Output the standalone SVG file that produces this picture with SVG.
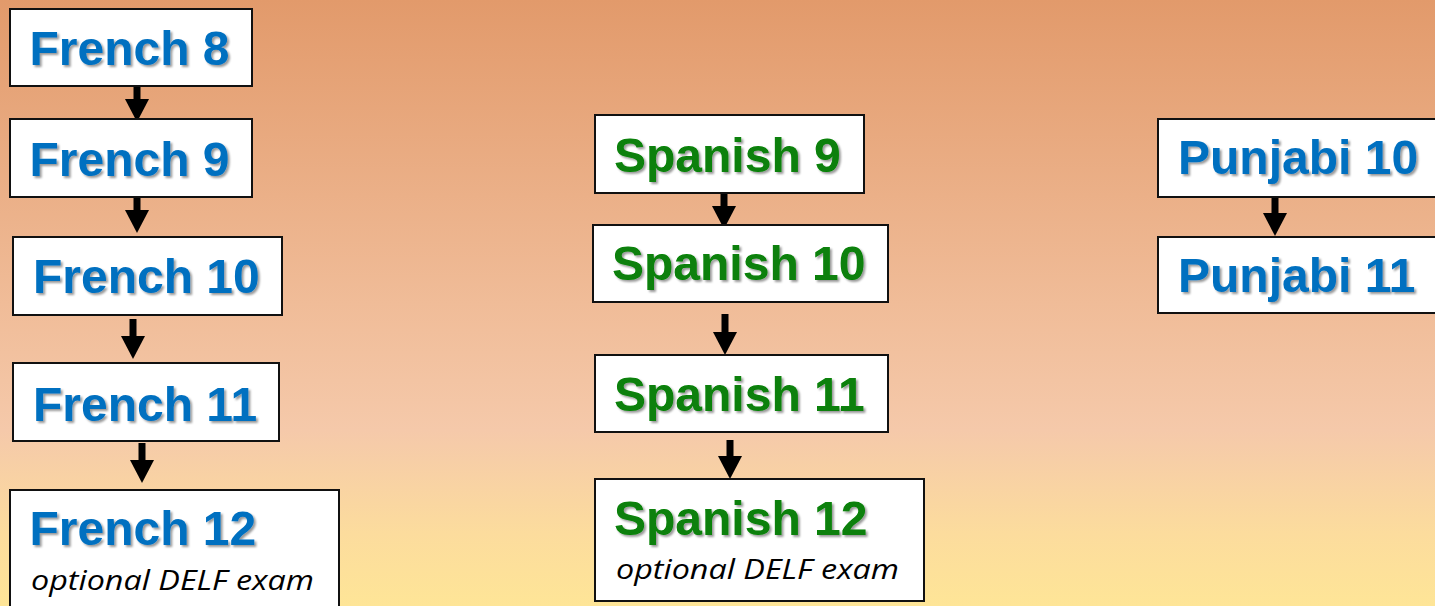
<svg xmlns="http://www.w3.org/2000/svg" width="1435" height="606" viewBox="0 0 1435 606">
<defs>
<linearGradient id="bg" x1="0" y1="0" x2="0" y2="1">
<stop offset="0" stop-color="#E29A6B"/>
<stop offset="0.5" stop-color="#F0BC98"/>
<stop offset="0.71" stop-color="#F5C9AA"/>
<stop offset="0.88" stop-color="#FCDC9D"/>
<stop offset="1" stop-color="#FEE597"/>
</linearGradient>
<filter id="sh" x="-10%" y="-20%" width="120%" height="150%">
<feDropShadow dx="2" dy="2" stdDeviation="1.3" flood-color="#000" flood-opacity="0.4"/>
</filter>
<marker id="ah" markerUnits="userSpaceOnUse" markerWidth="24" markerHeight="24" refX="0" refY="12" orient="auto" viewBox="0 0 24 24">
<path d="M0,0 L23,12 L0,24 z" fill="#000"/>
</marker>
<style>
.box{fill:#fff;stroke:#111;stroke-width:2}
.t{font-family:"Liberation Sans",Arial,sans-serif;font-weight:bold;font-size:48px;filter:url(#sh)}
.fr{fill:#0070C0}
.sp{fill:#078007}
.it{font-family:"Open Sans","Noto Sans",sans-serif;font-style:italic;font-size:28px;fill:#000}
.ar{stroke:#000;stroke-width:7;fill:none;marker-end:url(#ah)}
</style>
</defs>
<rect x="0" y="0" width="1435" height="606" fill="url(#bg)"/>
<g id="connectors">
<line class="ar" x1="137" y1="84" x2="137" y2="99"/>
<line class="ar" x1="137" y1="193" x2="137" y2="210"/>
<line class="ar" x1="133" y1="319" x2="133" y2="336"/>
<line class="ar" x1="142" y1="443" x2="142" y2="460"/>
<line class="ar" x1="724" y1="191" x2="724" y2="206"/>
<line class="ar" x1="725" y1="314" x2="725" y2="332"/>
<line class="ar" x1="730" y1="440" x2="730" y2="456"/>
<line class="ar" x1="1275" y1="197" x2="1275" y2="213"/>
</g>
<g id="french8"><rect class="box" x="10" y="9" width="242" height="77"/><text class="t fr" x="29.5" y="65">French 8</text></g>
<g id="french9"><rect class="box" x="10" y="119" width="242" height="78"/><text class="t fr" x="29.5" y="176">French 9</text></g>
<g id="french10"><rect class="box" x="13" y="237" width="269" height="78"/><text class="t fr" x="33" y="293">French 10</text></g>
<g id="french11"><rect class="box" x="13" y="363" width="266" height="78"/><text class="t fr" x="33" y="421">French 11</text></g>
<g id="french12"><rect class="box" x="10" y="490" width="329" height="130"/><text class="t fr" x="29.5" y="545">French 12</text><text class="it" x="31" y="590" textLength="283" lengthAdjust="spacingAndGlyphs">optional DELF exam</text></g>
<g id="spanish9"><rect class="box" x="595" y="115" width="269" height="78"/><text class="t sp" x="614" y="172">Spanish 9</text></g>
<g id="spanish10"><rect class="box" x="593" y="225" width="295" height="77"/><text class="t sp" x="612" y="280">Spanish 10</text></g>
<g id="spanish11"><rect class="box" x="595" y="355" width="293" height="77"/><text class="t sp" x="614" y="411">Spanish 11</text></g>
<g id="spanish12"><rect class="box" x="595" y="479" width="329" height="122"/><text class="t sp" x="614" y="535">Spanish 12</text><text class="it" x="616" y="579" textLength="283" lengthAdjust="spacingAndGlyphs">optional DELF exam</text></g>
<g id="punjabi10"><rect class="box" x="1158" y="119" width="300" height="78"/><text class="t fr" x="1178" y="174">Punjabi 10</text></g>
<g id="punjabi11"><rect class="box" x="1158" y="237" width="300" height="76"/><text class="t fr" x="1178" y="292">Punjabi 11</text></g>
</svg>
